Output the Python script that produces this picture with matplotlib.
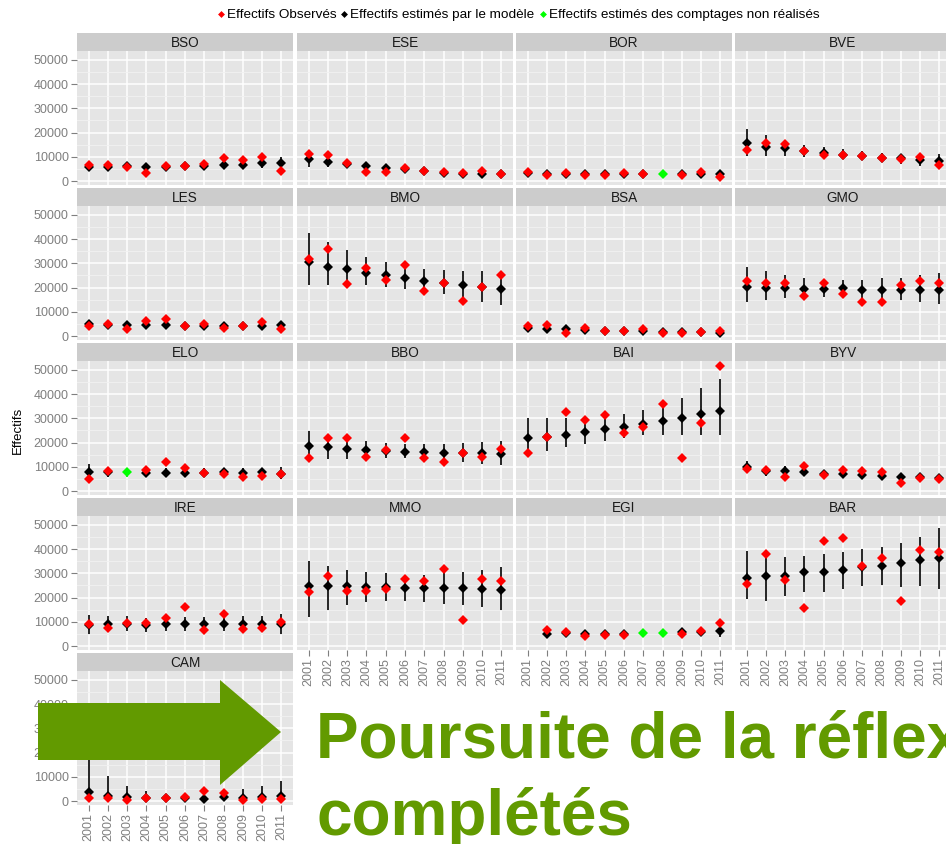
import numpy as np
import matplotlib.pyplot as plt
from matplotlib.lines import Line2D
from matplotlib.patches import Polygon

plt.rcParams['font.family'] = ['Liberation Sans', 'DejaVu Sans']

years = [2001, 2002, 2003, 2004, 2005, 2006, 2007, 2008, 2009, 2010, 2011]

# facet layout, row by row
site_rows = [
    ['BSO', 'ESE', 'BOR', 'BVE'],
    ['LES', 'BMO', 'BSA', 'GMO'],
    ['ELO', 'BBO', 'BAI', 'BYV'],
    ['IRE', 'MMO', 'EGI', 'BAR'],
    ['CAM'],
]

# counts actually made (None = count not carried out)
observed = {
    'BSO': [6600, 6600, 5600, 3400, 6300, 6300, 6900, 9300, 8700, 10000, 4200],
    'ESE': [11300, 10700, 7300, 3800, 3800, 5400, 4200, 3700, 3200, 4100, 2800],
    'BOR': [3900, 2300, 3500, 2300, 2400, 3500, 3000, None, 2400, 3800, 1800],
    'BVE': [13000, 15500, 15200, 12500, 10700, 10800, 10400, 9700, 9000, 10000, 6500],
    'LES': [4000, 5100, 2900, 6200, 7200, 4300, 4800, 3300, 4000, 5700, 2800],
    'BMO': [31800, 35900, 21300, 28000, 23300, 29300, 18400, 22100, 14600, 20300, 25100],
    'BSA': [4100, 4600, 1100, 3500, 1900, 1900, 2900, 1200, 1200, 1500, 2200],
    'GMO': [22600, 21800, 21800, 16700, 21800, 17500, 14200, 14200, 21000, 22600, 22100],
    'ELO': [4800, 8400, None, 8800, 12000, 9700, 7600, 7200, 5800, 6200, 7200],
    'BBO': [13700, 22100, 22100, 14200, 17000, 21700, 13700, 12000, 15900, 14200, 17500],
    'BAI': [15500, 22200, 32600, 29300, 31500, 23800, 26400, 36000, 13700, 28000, 51500],
    'BYV': [9100, 8700, 5800, 10300, 6600, 8700, 8300, 7900, 3300, 5400, 5000],
    'IRE': [9100, 7400, 9500, 9500, 11600, 16100, 6600, 13200, 7000, 7400, 9900],
    'MMO': [22300, 29000, 22700, 22700, 23600, 27700, 26900, 31800, 10700, 27700, 26900],
    'EGI': [None, 6600, 5800, 4100, 4500, 4500, None, None, 5000, 6200, 9500],
    'BAR': [25600, 38000, 27300, 15700, 43400, 44600, 33000, 36400, 18600, 39700, 38800],
    'CAM': [1200, 1200, 400, 1200, 1200, 1600, 4100, 3300, 400, 800, 800],
}

# model estimates
estimated = {
    'BSO': [5600, 5900, 6000, 5900, 5900, 6200, 6300, 6800, 6800, 7300, 7500],
    'ESE': [9000, 7900, 6900, 6200, 5500, 4900, 4200, 3500, 3100, 3100, 2700],
    'BOR': [3200, 3100, 3100, 3100, 2700, 2800, 3000, 2700, 2700, 2800, 2800],
    'BVE': [15500, 14100, 13500, 12500, 11500, 10700, 10200, 9700, 9300, 8700, 8300],
    'LES': [5000, 4600, 4600, 4400, 4400, 4100, 4000, 4100, 4000, 4100, 4400],
    'BMO': [30400, 28700, 27500, 26200, 25000, 23900, 22600, 22100, 21000, 20300, 19300],
    'BSA': [3300, 2800, 2900, 2500, 1900, 1900, 1900, 1800, 1600, 1500, 1100],
    'GMO': [20400, 20000, 20000, 19600, 19600, 19700, 19200, 19200, 19200, 19200, 18900],
    'ELO': [7900, 7900, 7900, 7600, 7600, 7600, 7600, 7900, 7600, 7900, 7200],
    'BBO': [18400, 18000, 17500, 17100, 16600, 16200, 16300, 15900, 15600, 15500, 15200],
    'BAI': [21700, 22500, 23300, 24300, 25500, 26400, 27600, 28900, 30200, 31900, 33100],
    'BYV': [9900, 8300, 8300, 7900, 7000, 7000, 6600, 6200, 5800, 5800, 5400],
    'IRE': [8700, 9100, 9100, 8700, 9100, 9100, 9100, 9100, 9100, 9100, 9100],
    'MMO': [24800, 24800, 24800, 24400, 24400, 24000, 24000, 24000, 24000, 23600, 23100],
    'EGI': [None, 5000, 5400, 5000, 5000, 5000, 5400, 5400, 5800, 5800, 6200],
    'BAR': [28100, 28900, 28900, 30600, 30600, 31400, 32600, 33000, 34300, 35500, 36300],
    'CAM': [3700, 2100, 1600, 1200, 1200, 1200, 800, 1600, 1200, 1600, 2100],
}

# lower bound of the model interval
lower = {
    'BSO': [4200, 4600, 4800, 4700, 4800, 5100, 5200, 5500, 5300, 5400, 5200],
    'ESE': [5900, 5600, 5500, 5000, 4400, 3900, 3300, 2700, 2300, 2200, 1800],
    'BOR': [2500, 2400, 2400, 2400, 2100, 2200, 2300, 2100, 2000, 2100, 2000],
    'BVE': [10400, 10400, 10400, 9900, 9500, 8900, 8600, 7700, 7100, 6300, 5900],
    'LES': [3400, 3500, 3500, 3400, 3400, 3200, 3100, 3100, 3000, 3100, 3200],
    'BMO': [20900, 20900, 21300, 21000, 20400, 19600, 19100, 17300, 14800, 14200, 13000],
    'BSA': [2500, 2100, 2200, 1900, 1400, 1400, 1400, 1300, 1200, 1100, 800],
    'GMO': [14200, 15000, 15500, 15200, 16200, 15900, 14900, 14500, 14900, 14200, 13400],
    'ELO': [4800, 5600, 5900, 5900, 5900, 5900, 5900, 6100, 5900, 6200, 5100],
    'BBO': [13700, 13400, 13400, 13700, 13800, 13800, 13500, 12800, 12000, 11300, 10900],
    'BAI': [15500, 16600, 18000, 19600, 20700, 22000, 23000, 23300, 23300, 23300, 23300],
    'BYV': [7400, 6300, 6300, 6000, 5300, 5300, 5000, 4700, 4400, 4400, 4100],
    'IRE': [4900, 5600, 6000, 5900, 6200, 6200, 6200, 6200, 6000, 5800, 4900],
    'MMO': [12000, 15000, 17000, 18000, 18500, 18500, 18000, 17500, 17000, 16000, 15000],
    'EGI': [None, 3800, 4100, 3800, 3800, 3800, 4100, 4100, 4300, 4300, 3800],
    'BAR': [19400, 18600, 20600, 22300, 22300, 23500, 24800, 25200, 24400, 24800, 23600],
    'CAM': [0, 0, 0, 300, 300, 300, 200, 400, 300, 400, 500],
}

# upper bound of the model interval
upper = {
    'BSO': [7600, 7400, 7300, 7300, 7200, 7400, 7500, 8200, 8400, 9500, 10100],
    'ESE': [10100, 9400, 8300, 7400, 6600, 5900, 5100, 4300, 3900, 4000, 3600],
    'BOR': [4000, 3900, 3900, 3900, 3400, 3500, 3700, 3400, 3400, 3600, 3700],
    'BVE': [21400, 19200, 17000, 14700, 13900, 13100, 12200, 11600, 11300, 10600, 11100],
    'LES': [6200, 5700, 5700, 5500, 5500, 5100, 5000, 5200, 5100, 5300, 5700],
    'BMO': [42500, 38800, 35500, 32600, 30500, 29400, 27600, 27200, 26800, 26800, 25800],
    'BSA': [4100, 3500, 3600, 3100, 2400, 2400, 2400, 2300, 2100, 2000, 1500],
    'GMO': [28300, 26700, 25300, 24000, 23100, 23200, 23200, 23800, 24000, 25300, 26200],
    'ELO': [11000, 10100, 9600, 9400, 9400, 9400, 9400, 9700, 9400, 9400, 10000],
    'BBO': [24900, 23200, 22100, 20700, 20000, 19600, 19600, 19600, 19700, 20300, 20700],
    'BAI': [30100, 30100, 30100, 28700, 31500, 31700, 33500, 36000, 38400, 42400, 46300],
    'BYV': [12300, 10500, 10400, 9900, 8800, 8800, 8300, 7800, 7300, 7300, 6800],
    'IRE': [12800, 12500, 12200, 11600, 12000, 12000, 12000, 12000, 12200, 12500, 13200],
    'MMO': [35000, 33000, 31500, 30500, 30000, 29500, 29500, 30000, 30500, 31500, 32500],
    'EGI': [None, 6400, 6800, 6400, 6400, 6400, 6800, 6800, 7500, 7800, 10300],
    'BAR': [39300, 39700, 36800, 37200, 38000, 39000, 40000, 41000, 42700, 45000, 48800],
    'CAM': [17000, 10400, 6200, 4000, 3000, 3000, 3500, 4500, 5000, 6200, 8300],
}

y_ticks = [0, 10000, 20000, 30000, 40000, 50000]
y_minor = [5000, 15000, 25000, 35000, 45000]

RED = '#FF0000'
GREEN = '#00FF00'
GREY_TXT = '#7F7F7F'
SLIDE_GREEN = '#629A00'

W, H = 946, 844
fig = plt.figure(figsize=(W / 100, H / 100), dpi=100)


def px_axes(x, y, w, h):
    return fig.add_axes([x / W, 1 - (y + h) / H, w / W, h / H])


col_left = [77, 297, 516, 735]
panel_w = 216
strip_h = 18
panel_h = 134
row_step = 155
n_rows = len(site_rows)
ms = 4.6

for r, row in enumerate(site_rows):
    top = 33 + r * row_step
    for c, site in enumerate(row):
        # strip with the site name
        sax = px_axes(col_left[c], top, panel_w, strip_h)
        sax.set_facecolor('#CCCCCC')
        sax.set_xticks([])
        sax.set_yticks([])
        for s in sax.spines.values():
            s.set_visible(False)
        sax.text(0.5, 0.45, site, ha='center', va='center', fontsize=9.8,
                 color='#1A1A1A', transform=sax.transAxes)

        ax = px_axes(col_left[c], top + strip_h, panel_w, panel_h)
        ax.set_facecolor('#E5E5E5')
        for s in ax.spines.values():
            s.set_visible(False)
        ax.set_axisbelow(True)
        ax.set_xlim(2000.4, 2011.6)
        ax.set_ylim(-1650, 53700)
        ax.set_xticks(years)
        ax.set_yticks(y_ticks)
        ax.set_yticks(y_minor, minor=True)
        ax.grid(which='major', color='white', lw=1.1)
        ax.grid(which='minor', axis='y', color='#F2F2F2', lw=0.6)
        ax.tick_params(which='minor', length=0)

        # y labels only on the first column
        if c == 0:
            ax.tick_params(axis='y', length=4, width=0.8, color=GREY_TXT,
                           labelsize=9, labelcolor=GREY_TXT, pad=2)
            ax.set_yticklabels([str(v) for v in y_ticks])
        else:
            ax.tick_params(axis='y', length=0, labelleft=False)

        # x labels under the lowest panel of each column
        is_bottom = (r == n_rows - 1) or (r == n_rows - 2 and c > 0)
        if is_bottom:
            ax.tick_params(axis='x', length=4, width=0.8, color=GREY_TXT,
                           labelsize=9, labelcolor=GREY_TXT, pad=2,
                           labelrotation=90)
            ax.set_xticklabels([str(y) for y in years])
        else:
            ax.tick_params(axis='x', length=0, labelbottom=False)

        yr = np.array(years, dtype=float)
        obs = np.array(observed[site], dtype=float)
        est = np.array(estimated[site], dtype=float)
        lo = np.array(lower[site], dtype=float)
        hi = np.array(upper[site], dtype=float)
        miss = np.isnan(obs) & ~np.isnan(est)
        done = ~np.isnan(obs)

        ax.vlines(yr[done], lo[done], hi[done], color='black', lw=1.2, zorder=3)
        ax.vlines(yr[miss], lo[miss], hi[miss], color=GREEN, lw=1.2, zorder=3)
        ax.plot(yr[done], est[done], 'D', color='black', ms=ms, mew=0, zorder=4)
        ax.plot(yr[miss], est[miss], 'D', color=GREEN, ms=ms, mew=0, zorder=4)
        ax.plot(yr[done], obs[done], 'D', color=RED, ms=ms, mew=0, zorder=5)

fig.text(18 / W, 1 - 430 / H, 'Effectifs', rotation=90, ha='center',
         va='center', fontsize=9.5)

handles = [
    Line2D([], [], ls='none', marker='D', ms=3.5, mew=0, color=RED,
           label='Effectifs Observés'),
    Line2D([], [], ls='none', marker='D', ms=3.5, mew=0, color='black',
           label='Effectifs estimés par le modèle'),
    Line2D([], [], ls='none', marker='D', ms=3.5, mew=0, color=GREEN,
           label='Effectifs estimés des comptages non réalisés'),
]
fig.legend(handles=handles, loc='center', bbox_to_anchor=(518 / W, 1 - 15 / H),
           ncol=3, frameon=False, fontsize=9.7, handlelength=0.6,
           handletextpad=0.15, columnspacing=0.3, borderpad=0)

# slide overlay: arrow and caption
arrow_px = [(38, 703), (220, 703), (220, 680), (281, 732), (220, 785),
            (220, 760), (38, 760)]
fig.patches.append(Polygon([(x / W, 1 - y / H) for x, y in arrow_px],
                           closed=True, facecolor=SLIDE_GREEN, edgecolor='none',
                           transform=fig.transFigure, zorder=10))
fig.text(316 / W, 1 - 757 / H, 'Poursuite de la réflexion', fontsize=46,
         fontweight='bold', color=SLIDE_GREEN, va='baseline', ha='left',
         zorder=11)
fig.text(316 / W, 1 - 835 / H, 'complétés', fontsize=46, fontweight='bold',
         color=SLIDE_GREEN, va='baseline', ha='left', zorder=11)

fig.savefig('out.png', dpi=100)
